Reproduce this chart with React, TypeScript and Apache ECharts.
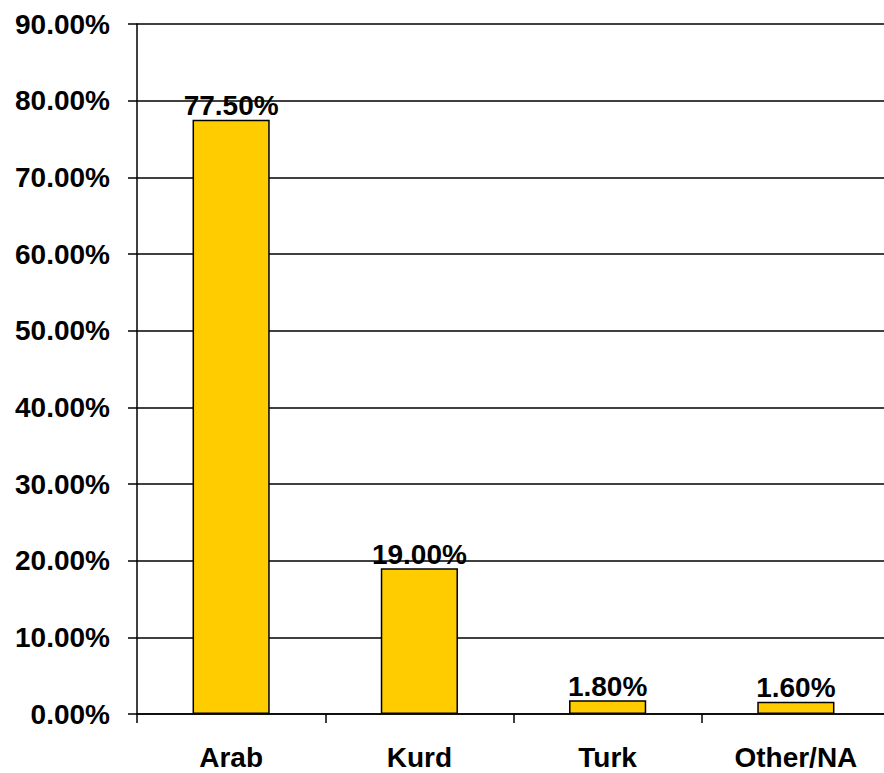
import React, { useEffect, useRef } from "react";
import * as echarts from "echarts";

const categories = ["Arab", "Kurd", "Turk", "Other/NA"];
const values = [77.5, 19.0, 1.8, 1.6];

export default function App() {
  const ref = useRef<HTMLDivElement>(null);
  useEffect(() => {
    const chart = echarts.init(ref.current!, null, { renderer: "svg" });
    const font = "'Liberation Sans', Arial, sans-serif";
    chart.setOption({
      animation: false,
      backgroundColor: "#ffffff",
      grid: { left: 137, top: 24, right: 0, bottom: 59, containLabel: false },
      xAxis: {
        type: "category",
        data: categories,
        axisLine: { lineStyle: { color: "#000", width: 1.5 } },
        axisTick: { show: true, length: 9, lineStyle: { color: "#000", width: 1.5 } },
        axisLabel: { color: "#000", fontSize: 28, fontWeight: "bold", fontFamily: font, margin: 29 },
      },
      yAxis: {
        type: "value",
        min: 0,
        max: 90,
        interval: 10,
        axisLine: { show: true, lineStyle: { color: "#000", width: 1.5 } },
        axisTick: { show: true, length: 9, lineStyle: { color: "#000", width: 1.5 } },
        splitLine: { show: true, lineStyle: { color: "#000", width: 1.5 } },
        axisLabel: {
          color: "#000",
          fontSize: 28,
          fontWeight: "bold",
          fontFamily: font,
          margin: 27,
          formatter: (v: number) => v.toFixed(2) + "%",
        },
      },
      series: [
        {
          type: "bar",
          data: values,
          barWidth: "41%",
          itemStyle: { color: "#FFCC00", borderColor: "#000", borderWidth: 1.5 },
          label: {
            show: true,
            position: "top",
            distance: 0,
            color: "#000",
            fontSize: 28,
            fontWeight: "bold",
            fontFamily: font,
            formatter: (p: any) => Number(p.value).toFixed(2) + "%",
          },
        },
      ],
    });
    return () => chart.dispose();
  }, []);
  return (
    <div style={{ position: "absolute", left: 0, top: 0, width: 884, height: 773, overflow: "hidden" }}>
      <div ref={ref} style={{ width: 890, height: 773 }} />
    </div>
  );
}
